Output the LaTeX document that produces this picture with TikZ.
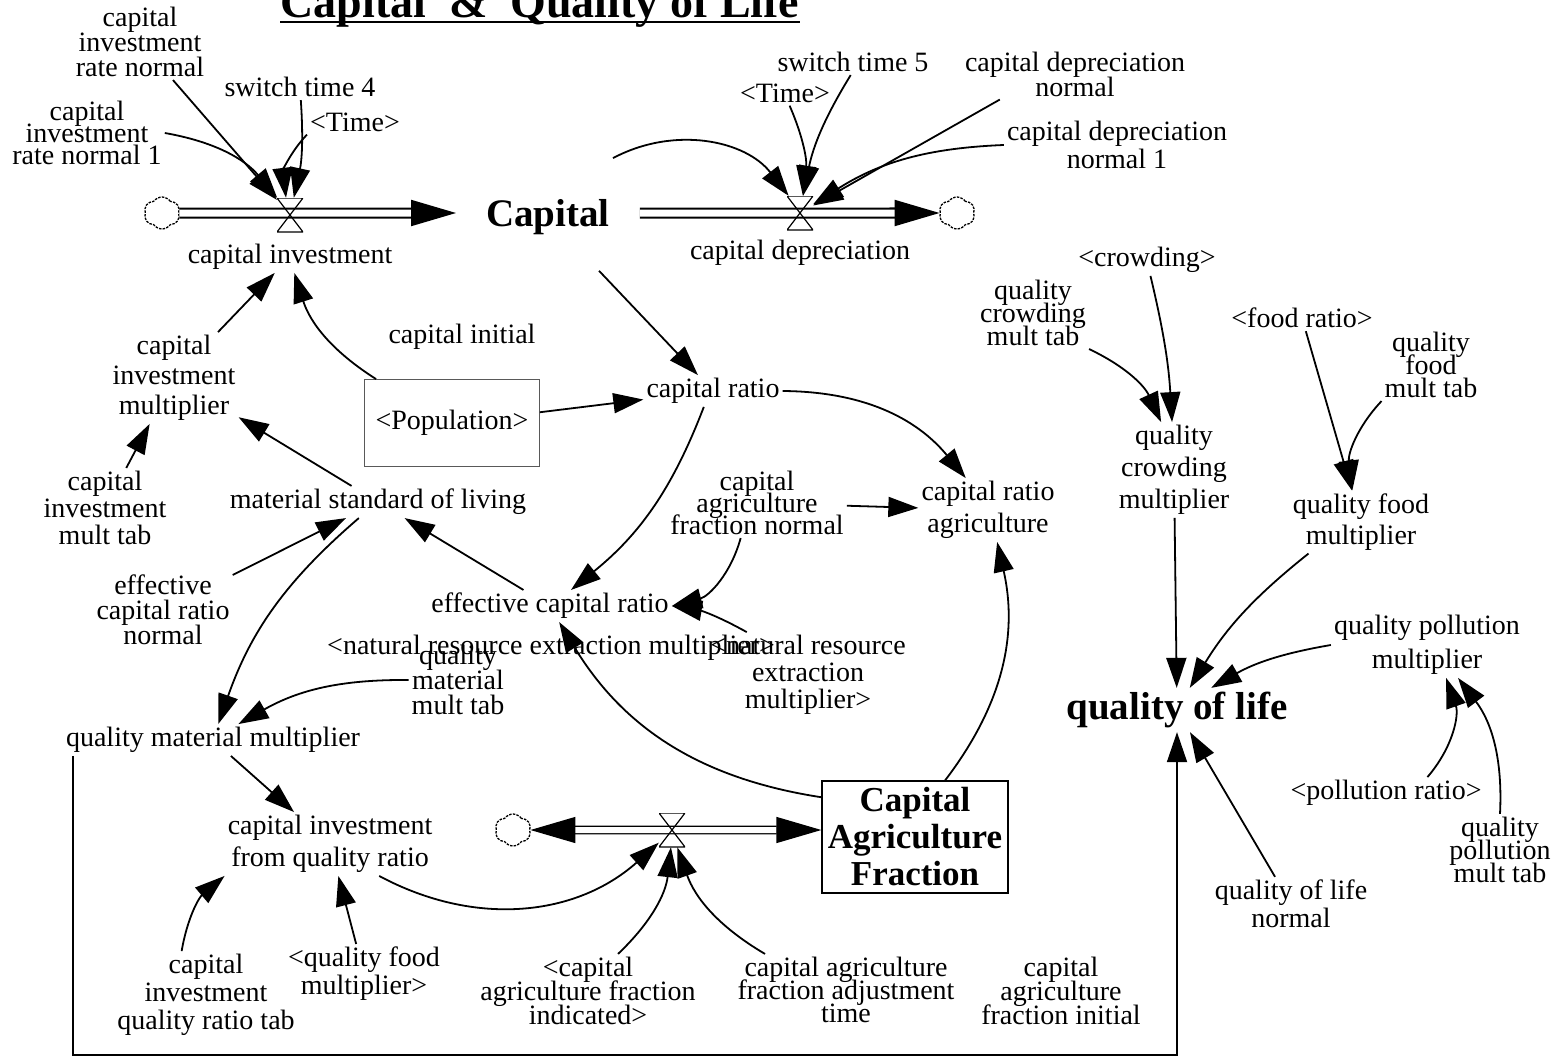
\documentclass[tikz,border=0pt]{standalone}
\usepackage{fontspec}
\setmainfont{Liberation Serif}
\usetikzlibrary{arrows.meta}
\usetikzlibrary{shapes.symbols}
\lineskiplimit=-\maxdimen

\begin{document}
\begin{tikzpicture}[x=1pt, y=-1pt,
        var/.style={align=center, inner sep=3pt, font=\fontsize{28}{28}\selectfont},
        lsk/.style={font=\fontsize{28}{#1}\selectfont},
        stock/.style={align=center, inner sep=4pt, font=\bfseries\fontsize{39}{39}\selectfont},
        link/.style={-{Triangle[length=30pt,width=20pt]}, line width=1.8pt},
        pipe/.style={double, double distance=7pt, line width=2pt, -{Triangle[length=45pt,width=26pt]}},
        pipetwo/.style={double, double distance=6pt, line width=1.3pt, {Triangle[length=45pt,width=26pt]}-{Triangle[length=45pt,width=26pt]}},
        valve/.style={minimum width=26pt, minimum height=34pt, inner sep=0pt,
            path picture={\draw [line width=1.2pt] (path picture bounding box.north west) -- (path picture bounding box.north east) -- (path picture bounding box.south west) -- (path picture bounding box.south east) -- cycle;}},
        cloudy/.style={cloud, cloud puffs=6, cloud puff arc=110, aspect=1.1, draw, dash pattern=on 2.5pt off 1.2pt, line width=1.3pt, minimum width=36pt, minimum height=32pt, inner sep=0pt},
        lb/.style={bend left=#1}, rb/.style={bend right=#1}]
    \useasboundingbox (0,0) rectangle (1560,1062);

    \node [anchor=base, inner sep=0pt, font=\bfseries\fontsize{46}{46}\selectfont] (title) at (540,18) {Capital\ \ \&\ \ Quality of Life};
    \draw [line width=2.8pt] ([yshift=-4pt]title.base west) -- ([yshift=-4pt]title.base east);

    % capital flows
    \node [var, lsk=25] (cirn) at (140,42) {capital\\investment\\rate normal};
    \node [var, lsk=22] (cirnone) at (87,133) {capital\\investment\\rate normal 1};
    \node [var] (swfour) at (300,87) {switch time 4};
    \node [var] (timeA) at (355,122) {\textless Time\textgreater};
    \node [cloudy] (cloudA) at (162,213) {};
    \node [stock, inner xsep=30pt] (Capital) at (548,217) {Capital};
    \node [cloudy] (cloudB) at (957,213) {};
    \node [var] (capinv) at (290,257) {capital investment};
    \node [var] (capdep) at (800,253) {capital depreciation};
    \node [var] (swfive) at (853,62) {switch time 5};
    \node [var] (timeB) at (785,93) {\textless Time\textgreater};
    \node [var, lsk=25] (cdn) at (1075,74) {capital depreciation\\normal};
    \node [var, lsk=28] (cdnone) at (1117,145) {capital depreciation\\normal 1};
    \draw [pipe] (cloudA) -- (cloudA -| Capital.west);
    \draw [pipe] (Capital.east |- cloudB) -- (cloudB);
    \node [valve] (vinv) at (290,215) {};
    \node [valve] (vdep) at (800,213) {};

    \node [var] (capinit) at (462,337) {capital initial};
    \node [var, draw=gray!70!black, line width=0.8pt, minimum width=175pt, minimum height=87pt] (pop) at (452,423) {\textless Population\textgreater};
    \node [var] (cr) at (713,391) {capital ratio};
    \node [var, lsk=30] (cim) at (174,378) {capital\\investment\\multiplier};
    \node [var, lsk=27] (cimt) at (105,508) {capital\\investment\\mult tab};
    \node [var] (msl) at (378,502) {material standard of living};
    \node [var, lsk=25] (ecrn) at (163,610) {effective\\capital ratio\\normal};
    \node [var] (ecr) at (550,606) {effective capital ratio};
    \node [var, lsk=22] (cafn) at (757,503) {capital\\agriculture\\fraction normal};
    \node [var, lsk=32] (cra) at (988,510) {capital ratio\\agriculture};
    \node [var] (nremA) at (551,648) {\textless natural resource extraction multiplier\textgreater};
    \node [var, lsk=27] (nremB) at (808,675) {\textless natural resource\\extraction\\multiplier\textgreater};
    \node [var, lsk=25] (qmmt) at (458,680) {quality\\material\\mult tab};
    \node [var] (qmm) at (213,740) {quality material multiplier};
    \node [var, lsk=32] (cifqr) at (330,844) {capital investment\\from quality ratio};
    \node [var, lsk=28] (cigrt) at (206,995) {capital\\investment\\quality ratio tab};
    \node [var, lsk=28] (qfmref) at (364,974) {\textless quality food\\multiplier\textgreater};

    % capital agriculture fraction
    \node [cloudy] (cloudC) at (513,830) {};
    \node [stock, draw, line width=1.3pt, font=\bfseries\fontsize{35}{37}\selectfont, minimum width=186pt, minimum height=112pt] (CAF) at (915,837) {Capital\\Agriculture\\Fraction};
    \draw [pipetwo] (cloudC) -- (cloudC -| CAF.west);
    \node [valve] (vcaf) at (672,830) {};
    \node [var, lsk=24] (cafind) at (588,991) {\textless capital\\agriculture fraction\\indicated\textgreater};
    \node [var, lsk=23] (cafat) at (846,990) {capital agriculture\\fraction adjustment\\time};
    \node [var, lsk=24] (cafinit) at (1061,991) {capital\\agriculture\\fraction initial};

    % quality of life
    \node [stock] (qol) at (1177,710) {quality of life};
    \node [var, lsk=28] (qoln) at (1291,904) {quality of life\\normal};
    \node [var, lsk=34] (qpm) at (1427,645) {quality pollution\\multiplier};
    \node [var] (polr) at (1386,793) {\textless pollution ratio\textgreater};
    \node [var, lsk=23] (qpmt) at (1500,850) {quality\\pollution\\mult tab};
    \node [var, lsk=31] (qfm) at (1361,522) {quality food\\multiplier};
    \node [var] (foodr) at (1302,318) {\textless food ratio\textgreater};
    \node [var, lsk=23] (qfmt) at (1431,365) {quality\\food\\mult tab};
    \node [var, lsk=32] (qcm) at (1174,470) {quality\\crowding\\multiplier};
    \node [var] (crowd) at (1147,260) {\textless crowding\textgreater};
    \node [var, lsk=23] (qcmt) at (1033,313) {quality\\crowding\\mult tab};
    \coordinate (loopL) at (73,1055);
    \coordinate (loopR) at (1177,1055);

    \draw [link] (cirn) -- (vinv);
    \draw [link] (cirnone.east) to[lb=20] (vinv);
    \draw [link] (swfour) to[lb=8] (vinv);
    \draw [link] (timeA.south west) to[rb=25] (vinv);
    \draw [link] ([xshift=-27pt,yshift=37pt]Capital.north east) to[lb=40] (vdep);
    \draw [link] (timeB.-70) to[lb=15] (vdep);
    \draw [link] (swfive.-100) to[rb=10] (vdep);
    \draw [link] ([xshift=38pt]cdn.south west) -- (vdep);
    \draw [link] (cdnone.west) to[rb=15] (vdep);

    \draw [link] (cim) -- (capinv);
    \draw [link] ([xshift=12pt]pop.north west) to[lb=20] (capinv);
    \draw [link, shorten <=44pt] (Capital) -- (cr);
    \draw [link] (pop) -- (cr);
    \draw [link] (cr.east) to[lb=25] (cra);
    \draw [link] (cr.-120) to[lb=15] (ecr);
    \draw [link] (cafn) -- (cra);
    \draw [link] (cafn.-115) to[lb=30] (ecr.east);
    \draw [link] (msl) -- (cim);
    \draw [link] (cimt) -- (cim);
    \draw [link] (ecrn) -- (msl);
    \draw [link] (ecr) -- (msl);
    \draw [link] (msl.220) to[rb=15] (qmm);
    \draw [link] (qmmt.west) to[rb=15] (qmm);
    \draw [link] (CAF.157) to[lb=25] (ecr);
    \draw [link] (CAF.62) to[rb=25] (cra);
    \draw [link] (nremB.145) to[rb=10] (ecr.east);
    \draw [link] (qmm) -- (cifqr);
    \draw [link] (cifqr.-33) to[rb=35] (vcaf);
    \draw [link] (cigrt.119) to[lb=20] (cifqr.south west);
    \draw [link] (qfmref) -- (cifqr);
    \draw [link] (cafind.51) to[rb=20] (vcaf);
    \draw [link] (cafat.156) to[lb=20] (vcaf);

    \draw [link] (crowd) to[lb=5] (qcm);
    \draw [link] (qcmt.south east) to[lb=20] (qcm);
    \draw [link] (foodr) -- (qfm);
    \draw [link] (qfmt.south west) to[rb=25] (qfm);
    \draw [link] (qcm) -- (qol);
    \draw [link] (qfm.211) to[rb=10] (qol);
    \draw [link] (qpm.west) to[rb=10] (qol);
    \draw [link] (qoln) -- (qol);
    \draw [link] (polr.21) to[rb=30] (qpm);
    \draw [link] (qpmt.north) to[rb=20] (qpm);
    \draw [link] (qmm.south west -| loopL) -- (loopL) -- (loopR) -- (loopR |- qol.south);
\end{tikzpicture}
\end{document}
